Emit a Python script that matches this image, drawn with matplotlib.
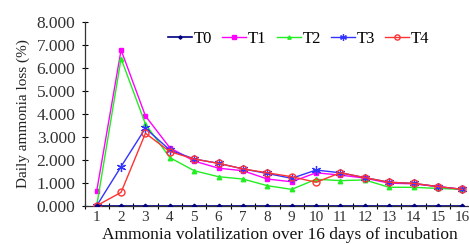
import matplotlib
matplotlib.use("Agg")
import matplotlib.pyplot as plt
import numpy as np

days = list(range(1, 17))
T0 = [0.0] * 16
T1 = [0.64, 6.77, 3.90, 2.52, 1.94, 1.63, 1.52, 1.16, 1.04, 1.43, 1.33, 1.20, 0.98, 0.95, 0.83, 0.71]
T2 = [0.0, 6.40, 3.55, 2.09, 1.52, 1.26, 1.16, 0.87, 0.71, 1.15, 1.09, 1.12, 0.80, 0.80, 0.75, 0.71]
T3 = [0.0, 1.70, 3.37, 2.42, 2.03, 1.84, 1.60, 1.40, 1.19, 1.55, 1.43, 1.22, 1.02, 0.97, 0.83, 0.71]
T4 = [0.0, 0.58, 3.15, 2.35, 2.03, 1.84, 1.60, 1.43, 1.26, 1.02, 1.43, 1.22, 1.02, 0.97, 0.83, 0.71]
yticks = [0, 1, 2, 3, 4, 5, 6, 7, 8]

plt.rcParams['font.family'] = ['Liberation Serif', 'DejaVu Serif']

fig = plt.figure(figsize=(4.69, 2.44), dpi=100)
ax = fig.add_axes([0.1802, 0.157, 0.8316, 0.754])

ax.plot(days, T1, color='#FF00FF', marker='s', ms=3.2, lw=1.0, label='T1', zorder=3)
ax.plot(days, T2, color='#22EE22', marker='^', ms=3.2, lw=1.0, label='T2', zorder=3)
ax.plot(days, T3, color='#3333FF', marker=(6, 2, 0), ms=6.5, mew=0.9, lw=1.0, label='T3', zorder=4)
ax.plot(days, T4, color='#FF3333', marker='o', ms=5, mfc='none', mew=1.0, lw=1.0, label='T4', zorder=4)
ax.plot(days, T0, color='#000080', marker='D', ms=2.3, lw=1.2, label='T0', zorder=5)

ax.set_xlim(0.5, 16.5)
ax.set_ylim(0, 8)
ax.set_yticks(yticks)
ax.set_yticklabels([f"{v:.3f}" for v in yticks], fontsize=12.5, color='#333333')
ax.set_xticks(days)
ax.set_xticklabels([str(d) for d in days], fontsize=11, color='#333333')
ax.set_xticks(np.arange(0.5, 17, 1), minor=True)
ax.tick_params(axis='x', which='major', length=0, pad=4)
ax.tick_params(axis='x', which='minor', length=5, direction='inout', width=0.8)
ax.tick_params(axis='y', length=5, direction='inout', width=0.8, pad=4)
ax.spines['top'].set_visible(False)
ax.spines['right'].set_visible(False)
for s in ['left', 'bottom']:
    ax.spines[s].set_color('#333333')
    ax.spines[s].set_linewidth(0.9)

ax.set_ylabel('Daily ammonia loss (%)', fontsize=11, labelpad=5, color='#222222')
ax.set_xlabel('Ammonia volatilization over 16 days of incubation', fontsize=12.5, labelpad=2,
              color='#111111')

handles, labels = ax.get_legend_handles_labels()
order = [4, 0, 1, 2, 3]
ax.legend([handles[i] for i in order], [labels[i] for i in order], ncol=5, frameon=False,
          loc='center', bbox_to_anchor=(0.549, 0.906), fontsize=12,
          handlelength=1.45, columnspacing=0.6, handletextpad=0.1, borderpad=0,
          markerscale=0.75)

fig.savefig('out.png', dpi=100)
